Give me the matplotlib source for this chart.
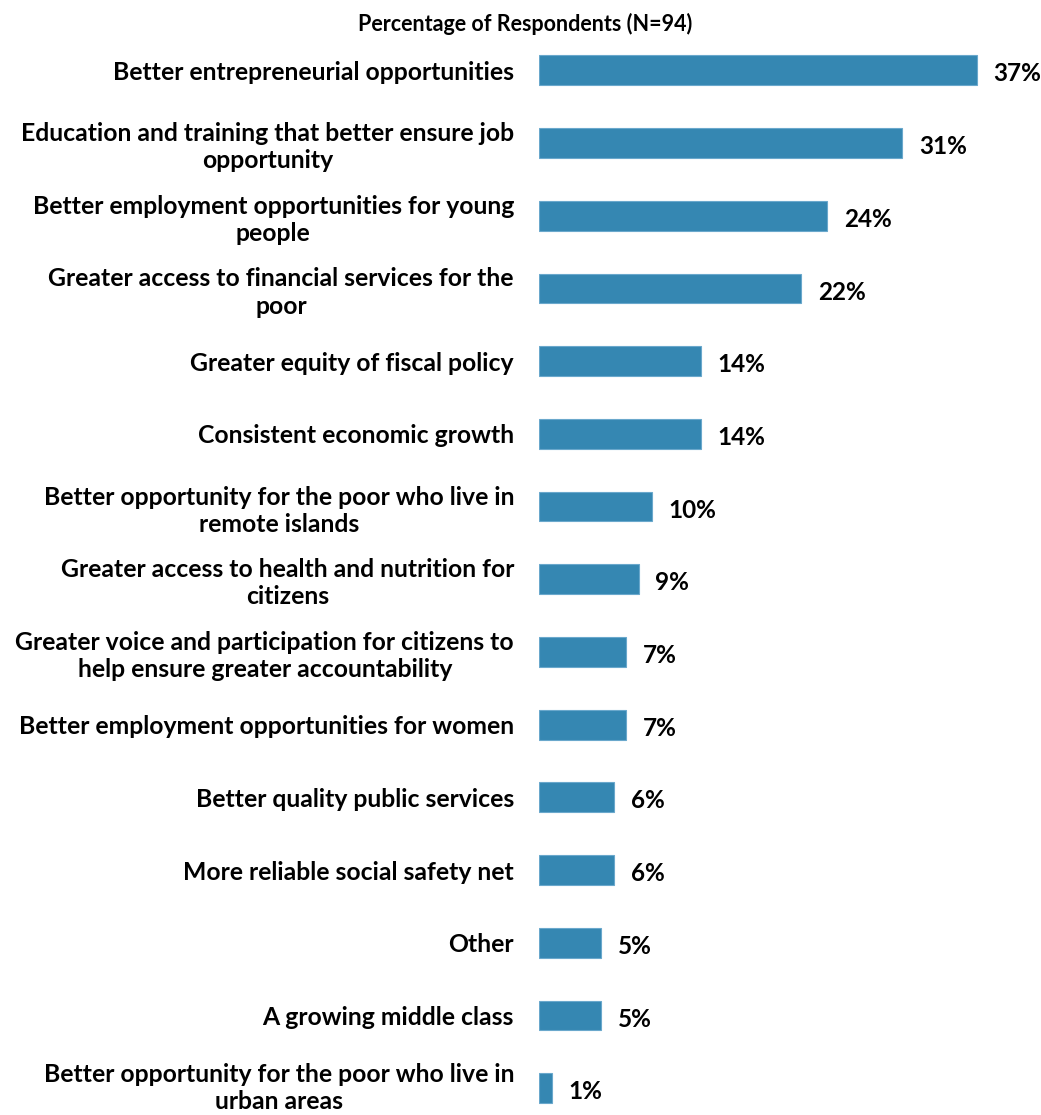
import numpy as np
import matplotlib.pyplot as plt
import matplotlib.transforms as mtransforms

plt.rcParams['font.family'] = ['Lato', 'DejaVu Sans']

categories = [
    "Better entrepreneurial opportunities",
    "Education and training that better ensure job\nopportunity",
    "Better employment opportunities for young\npeople",
    "Greater access to financial services for the\npoor",
    "Greater equity of fiscal policy",
    "Consistent economic growth",
    "Better opportunity for the poor who live in\nremote islands",
    "Greater access to health and nutrition for\ncitizens",
    "Greater voice and participation for citizens to\nhelp ensure greater accountability",
    "Better employment opportunities for women",
    "Better quality public services",
    "More reliable social safety net",
    "Other",
    "A growing middle class",
    "Better opportunity for the poor who live in\nurban areas",
]
# percentages (N=94)
values = [37.2, 30.9, 24.5, 22.3, 13.8, 13.8, 9.6, 8.5, 7.4, 7.4, 6.4, 6.4, 5.3, 5.3, 1.1]
value_labels = ["37%", "31%", "24%", "22%", "14%", "14%", "10%", "9%", "7%", "7%",
                "6%", "6%", "5%", "5%", "1%"]

fig = plt.figure(figsize=(10.41, 11.15), dpi=100)
ax = fig.add_axes([539 / 1041, 0.0, 494 / 1041, 1 - 34 / 1115])

y = np.arange(len(categories))
ax.barh(y, values, height=0.41, color='#3587b2', edgecolor='#6aa8cc', linewidth=0.8)

for yi, v, lab in zip(y, values, value_labels):
    ax.text(v + 1.4, yi + 0.05, lab, va='center', ha='left',
            fontsize=17.5, fontweight='bold')

ax.set_xlim(0, 42)
ax.set_ylim(14.37, -0.5)
ax.set_yticks(y)
ax.set_yticklabels(categories, fontsize=17.8, fontweight='bold',
                   multialignment='center', linespacing=1.22)
ax.tick_params(axis='y', length=0, pad=18)
ax.set_xticks([])
for s in ax.spines.values():
    s.set_visible(False)

# keep the last (bottom) label inside the figure
last = ax.get_yticklabels()[-1]
last.set_transform(last.get_transform() +
                   mtransforms.ScaledTranslation(0, 4 / 100, fig.dpi_scale_trans))

fig.text(525 / 1041, 1 - 24 / 1115, "Percentage of Respondents (N=94)",
         ha='center', va='center', fontsize=15.5, fontweight='bold')

plt.savefig("out.png", dpi=100)
